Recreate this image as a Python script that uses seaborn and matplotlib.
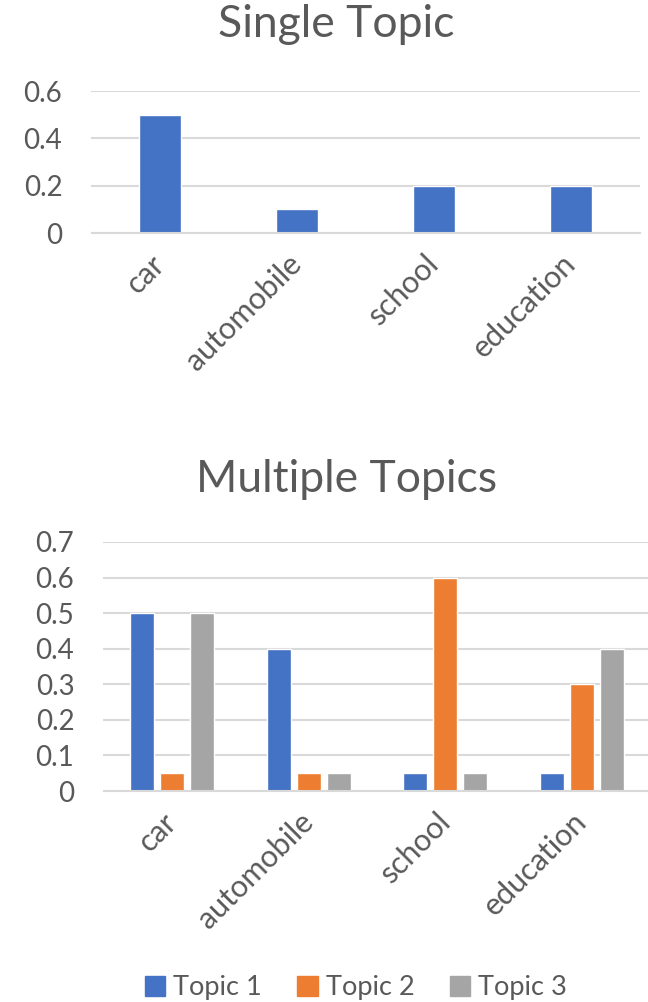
import matplotlib
matplotlib.use("Agg")
import matplotlib.pyplot as plt
import seaborn as sns
import pandas as pd

# Word–topic weights
words = ["car", "automobile", "school", "education"]
single_topic = [0.5, 0.1, 0.2, 0.2]
topic_names = ["Topic 1", "Topic 2", "Topic 3"]
topic1 = [0.5, 0.4, 0.05, 0.05]
topic2 = [0.05, 0.05, 0.6, 0.3]
topic3 = [0.5, 0.05, 0.05, 0.4]
single_ticks = [0, 0.2, 0.4, 0.6]
multi_ticks = [0, 0.1, 0.2, 0.3, 0.4, 0.5, 0.6, 0.7]

colors = ["#4472C4", "#ED7D31", "#A5A5A5"]
text_color = "#595959"
grid_color = "#D9D9D9"

sns.set_theme(style="white")
plt.rcParams["font.family"] = ["Lato", "DejaVu Sans"]
plt.rcParams["text.color"] = text_color

W, H = 648, 1002
fig = plt.figure(figsize=(W / 100, H / 100), dpi=100)


def px_axes(left, top, right, bottom):
    return fig.add_axes([left / W, 1 - bottom / H, (right - left) / W, (bottom - top) / H])


def style_axes(ax, ticks, fmt):
    ax.set_yticks(ticks)
    ax.set_yticklabels([fmt(t) for t in ticks])
    ax.set_ylim(0, ticks[-1])
    ax.yaxis.grid(True, color=grid_color, linewidth=1.5)
    ax.set_axisbelow(True)
    for s in ["top", "right", "left"]:
        ax.spines[s].set_visible(False)
    ax.spines["bottom"].set_color(grid_color)
    ax.spines["bottom"].set_linewidth(1.5)
    ax.tick_params(axis="both", length=0, colors=text_color)
    ax.tick_params(axis="y", pad=21, labelsize=20)
    ax.tick_params(axis="x", pad=19, labelsize=22)
    ax.set_xlabel("")
    ax.set_ylabel("")
    for lab in ax.get_xticklabels():
        lab.set_rotation(45)
        lab.set_ha("right")
        lab.set_rotation_mode("anchor")
        lab.set_va("center")


def fmt_label(t):
    return "0" if t == 0 else f"{t:g}"


# Single topic chart
df_single = pd.DataFrame({"word": words, "weight": single_topic})
ax1 = px_axes(91.5, 91, 639.5, 233)
sns.barplot(data=df_single, x="word", y="weight", color=colors[0], width=0.31,
            saturation=1, ax=ax1)
style_axes(ax1, single_ticks, fmt_label)
ax1.set_xlim(-0.5, 3.5)
fig.text(336 / W, 1 - 37 / H, "Single Topic", ha="center", va="baseline", fontsize=32,
         color=text_color)

# Multiple topics chart
df_multi = pd.DataFrame({
    "word": words * 3,
    "topic": [t for t in topic_names for _ in words],
    "weight": topic1 + topic2 + topic3,
})
ax2 = px_axes(103.5, 542, 650.5, 791)
sns.barplot(data=df_multi, x="word", y="weight", hue="topic", palette=colors,
            width=0.66, gap=0.2, saturation=1, ax=ax2)
style_axes(ax2, multi_ticks, fmt_label)
ax2.set_xlim(-0.5, 3.5)
ax2.get_legend().remove()
fig.text(347 / W, 1 - 492 / H, "Multiple Topics", ha="center", va="baseline", fontsize=32,
         color=text_color)

handles = [plt.Rectangle((0, 0), 1, 1, color=c) for c in colors]
fig.legend(handles, topic_names, loc="center", bbox_to_anchor=(356 / W, 1 - 988 / H),
           ncol=3, frameon=False, fontsize=19.5, handlelength=0.75, handleheight=0.75,
           handletextpad=0.3, columnspacing=1.3, labelcolor=text_color)

fig.savefig("out.png", dpi=100)
